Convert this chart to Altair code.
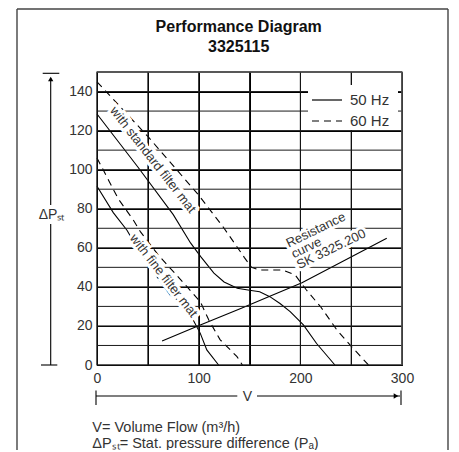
import altair as alt
import pandas as pd

FONT = "Liberation Sans"
INK = "black"
TXT = "#333333"

# ---- curve readings (flow m3/h, static pressure Pa) ----
std50_x = [0, 40, 75, 92, 102, 115, 125, 138, 150, 160, 170, 180, 190, 203, 216, 225, 234]
std50_y = [128.5, 101.5, 77, 62.5, 55.5, 47, 42.5, 39.3, 38.3, 37.5, 35, 31.5, 27.3, 20.5, 11, 5.5, 0]

std60_x = [0, 50, 100, 125, 145, 152, 160, 183, 195, 206, 220, 236, 252, 267]
std60_y = [145, 117, 87, 70, 55, 50, 48.6, 48.6, 46, 38.4, 29.8, 17.9, 8.5, 0]

fine50_x = [0, 16, 29.5, 42.6, 59, 72, 82, 92, 101.6, 108, 119.6]
fine50_y = [91.5, 78, 69, 57.2, 45.2, 35.8, 32.4, 25.6, 16.2, 7.7, 0]

fine60_x = [0, 12, 21, 36, 43, 60, 88.5, 101.6, 110, 121, 137.7, 143]
fine60_y = [106, 94, 85, 74, 68, 56.5, 40.1, 32.4, 23, 13, 4.3, 0]

res_x = [64, 101.6, 142, 168.8, 201.6, 250.8, 285]
res_y = [12.3, 20.5, 29, 35, 42.1, 55.5, 64.9]

x_ticks = [0, 50, 100, 150, 200, 250, 300]
y_ticks = [0, 10, 20, 30, 40, 50, 60, 70, 80, 90, 100, 110, 120, 130, 140, 150]

freqs = ["50 Hz", "60 Hz"]
title_lines = ["Performance Diagram", "3325115"]


def table(pairs):
    rows = []
    for name, fx, fy in pairs:
        for a, b in zip(fx, fy):
            rows.append({"curve": name, "flow": a, "pressure": b})
    return pd.DataFrame(rows)


df50 = table([("standard", std50_x, std50_y), ("fine", fine50_x, fine50_y)])
df60 = table([("standard", std60_x, std60_y), ("fine", fine60_x, fine60_y)])
res_df = pd.DataFrame({"flow": res_x, "pressure": res_y})

xscale = alt.Scale(domain=[0, 300], nice=False, zero=False)
yscale = alt.Scale(domain=[0, 150], nice=False, zero=False)

xaxis = alt.Axis(values=x_ticks,
                 labelExpr="datum.value % 100 == 0 ? datum.label : ''",
                 grid=True, gridColor="black", ticks=False, domain=True,
                 domainColor="black", labelFlush=False,
                 labelFontSize=14, labelFont=FONT, labelColor=TXT, labelPadding=6,
                 title="V", titleX=150, titleY=31, titleFont=FONT, titleFontSize=14,
                 titleFontWeight="normal", titleColor=TXT, titleBaseline="middle",
                 titleAlign="center")
yaxis = alt.Axis(values=y_ticks,
                 labelExpr="datum.value % 20 == 0 ? datum.label : ''",
                 grid=True, gridColor="black", ticks=False, domain=True,
                 domainColor="black", labelFlush=False,
                 labelFontSize=14, labelFont=FONT, labelColor=TXT, labelPadding=5,
                 title="ΔPₛₜ", titleAngle=0, titleX=-46, titleY=142, titleFont=FONT,
                 titleFontSize=14, titleFontWeight="normal", titleColor=TXT,
                 titleAlign="center", titleBaseline="middle")

X = alt.X("flow:Q", scale=xscale, axis=xaxis)
Y = alt.Y("pressure:Q", scale=yscale, axis=yaxis)

solid = alt.Chart(df50).mark_line(color=INK, strokeWidth=1.1).encode(
    x=X, y=Y, detail="curve:N")
dashed = alt.Chart(df60).mark_line(color=INK, strokeWidth=1.1, strokeDash=[7, 5]).encode(
    x=X, y=Y, detail="curve:N")
resist = alt.Chart(res_df).mark_line(color=INK, strokeWidth=1.1).encode(x=X, y=Y)

# explicit grid lines through the scales
vgrid = alt.Chart(pd.DataFrame({"flow": x_ticks})).mark_rule(
    color="#1a1a1a", strokeWidth=1).encode(x=X)
hgrid = alt.Chart(pd.DataFrame({"pressure": y_ticks})).mark_rule(
    color="#1a1a1a", strokeWidth=1).encode(y=Y)

one = alt.Data(values=[{}])


def note(text, x, y, angle, align="center", baseline="middle"):
    base = dict(text=text, angle=angle, align=align, baseline=baseline,
                font=FONT, fontSize=13)
    halo = alt.Chart(one).mark_text(color="white", stroke="white", strokeWidth=6,
                                    **base).encode(x=alt.datum(x), y=alt.datum(y))
    txt = alt.Chart(one).mark_text(color=TXT, **base).encode(
        x=alt.datum(x), y=alt.datum(y))
    return [halo, txt]


def seg(x1, y1, x2, y2, width=1.1, dash=None, color=INK):
    kw = dict(color=color, strokeWidth=width)
    if dash:
        kw["strokeDash"] = dash
    return alt.Chart(one).mark_rule(**kw).encode(
        x=alt.value(x1), x2=alt.value(x2), y=alt.value(y1), y2=alt.value(y2))


def head(x, y, shape):
    return alt.Chart(one).mark_point(shape=shape, filled=True, size=28,
                                     color=INK, opacity=1).encode(
        x=alt.value(x), y=alt.value(y))


def label(text, x, y, size=14, weight="normal", align="left", baseline="alphabetic"):
    return alt.Chart(one).mark_text(text=text, align=align, baseline=baseline,
                                    font=FONT, fontSize=size, fontWeight=weight,
                                    color="#111111" if weight == "bold" else TXT).encode(
        x=alt.value(x), y=alt.value(y))


layers = [solid, dashed, resist]

# y arrow
layers += [seg(-46.3, 6, -46.3, 133), seg(-46.3, 152, -46.3, 293),
           seg(-54.3, 1.3, -37.7, 1.3), seg(-56, 293, -39.7, 293),
           head(-46.3, 7, "triangle-up")]
# x arrow
layers += [seg(-1, 324, 140.3, 324), seg(160, 324, 303, 324),
           seg(-1, 318.5, -1, 333), seg(304, 318.5, 304, 333),
           head(299, 324, "triangle-right")]

# title and footnotes
layers += [label(title_lines[0], 141.7, -39.7, 16, "bold", "center"),
           label(title_lines[1], 141.7, -20.3, 16, "bold", "center"),
           label("V= Volume Flow (m³/h)", -4.7, 360, 14.5),
           label("ΔPₛₜ= Stat. pressure difference (Pₐ)", -4.7, 376, 14.5)]

# grid, plot border and outer frame drawn late
layers += [vgrid, hgrid,
           seg(0, 0, 305, 0, 1.2, color="#555555"),
           seg(305, 0, 305, 293, 1.4, color="#555555"),
           seg(-80, -63, -80, 380, 1.4, color="#444444"),
           seg(-80, -63, 351, -63, 1.4, color="#444444"),
           seg(351, -63, 351, 380, 1.4, color="#444444")]

# curve labels with white halos over the grid
layers += note("with standard filter mat", 54.9, 105, 52)
layers += note("with fine filter mat", 65.5, 45.7, 52)
layers += note("Resistance", 188.5, 60, 334, align="left", baseline="alphabetic")
layers += note("curve", 193.7, 54.5, 334, align="left", baseline="alphabetic")
layers += note("SK 3325.200", 198.9, 49, 334, align="left", baseline="alphabetic")

# legend box (50 Hz solid, 60 Hz dashed)
layers += [alt.Chart(one).mark_rect(color="white").encode(
               x=alt.value(211), x2=alt.value(301), y=alt.value(13), y2=alt.value(58)),
           seg(215, 28, 245, 28, 1.2),
           seg(215, 49, 245, 49, 1.2, [7, 5]),
           label(freqs[0], 253, 28, 15, baseline="middle"),
           label(freqs[1], 253, 49, 15, baseline="middle")]

chart = alt.layer(*layers).properties(
    width=305, height=293,
    autosize=alt.AutoSizeParams(type="none"),
    padding={"left": 89, "top": 64, "right": 48, "bottom": 85},
).configure_view(stroke="gray", strokeWidth=1.5)

chart.save("out.html", embed_options={"renderer": "svg", "actions": False})
